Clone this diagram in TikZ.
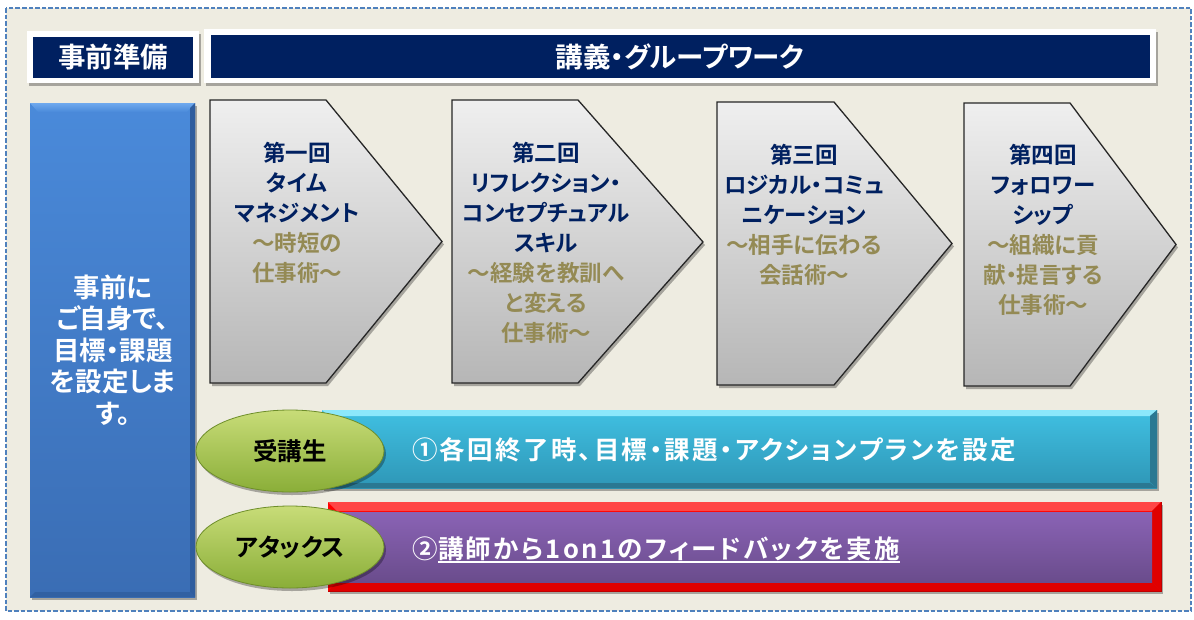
\documentclass[tikz,border=0pt]{standalone}
\usepackage{fontspec}
\setmainfont{Noto Sans CJK JP}[BoldFont={Noto Sans CJK JP Bold},RawFeature=+palt]
\newfontfamily\jpspaced{Noto Sans CJK JP}[BoldFont={Noto Sans CJK JP Bold},RawFeature=+palt,LetterSpace=9]
\usetikzlibrary{shadows,shapes.geometric}
\definecolor{navy}{HTML}{002060}
\definecolor{gold}{HTML}{948A54}
\definecolor{bgc}{HTML}{EEECE1}
\definecolor{dashc}{HTML}{4F81BD}
\definecolor{blueT}{HTML}{4A8ADA}
\definecolor{blueB}{HTML}{3A6DB4}
\definecolor{blueL}{HTML}{6FA9EE}
\definecolor{blueD}{HTML}{2F5D9E}
\definecolor{cyanT}{HTML}{40C0E2}
\definecolor{cyanB}{HTML}{2E96B6}
\definecolor{cyanL}{HTML}{8CE8FB}
\definecolor{cyanD}{HTML}{2A7892}
\definecolor{purT}{HTML}{8A63B5}
\definecolor{purB}{HTML}{6A4C8C}
\definecolor{redT}{HTML}{FF4545}
\definecolor{redD}{HTML}{E00000}
\definecolor{grnT}{HTML}{C8DC78}
\definecolor{grnB}{HTML}{8AAE38}
\definecolor{grnD}{HTML}{6E8E2A}
\definecolor{chT}{HTML}{EFEFEF}
\definecolor{chB}{HTML}{B6B6B6}
\tikzset{
  shad/.style={drop shadow={shadow xshift=2pt,shadow yshift=-3pt,opacity=0.3,fill=black}},
  hdr/.style={text=white,font=\bfseries\fontsize{27.5}{30}\selectfont,inner sep=0pt},
  chev/.style={top color=chT,bottom color=chB,draw=black!85,line width=1.3pt,line join=miter,shad},
  chtxt/.style={text=navy,align=center,inner sep=0pt,font=\bfseries\fontsize{22.5}{30}\selectfont},
  bartxt/.style={text=white,inner sep=0pt,font=\jpspaced\bfseries\fontsize{25.5}{30}\selectfont},
  ell/.style={ellipse,minimum width=188pt,minimum height=82pt,top color=grnT,bottom color=grnB,draw=grnD,line width=0.8pt,inner sep=0pt,font=\bfseries\fontsize{24.5}{30}\selectfont,text=black,shad}
}
\begin{document}
\begin{tikzpicture}[x=1pt,y=-1pt]
\useasboundingbox (0,0) rectangle (1194,619);
\fill[white] (0,0) rectangle (1194,619);
\draw[fill=bgc,draw=dashc,line width=1.8pt,dash pattern=on 4.5pt off 2pt] (6,8) rectangle (1191,611);

% headers
\fill[white,shad] (27,31) rectangle (199,83);
\fill[navy] (33,37) rectangle (193,78);
\node[hdr] (h1) at (113,57.5) {事前準備};
\fill[white,shad] (204,29) rectangle (1156,83);
\fill[navy] (211,35) rectangle (1150,78);
\node[hdr] (h2) at (680,57) {講義・グループワーク};

% blue column
\shade[top color=blueT,bottom color=blueB,shad] (30,103) rectangle (195,597);
\shade[top color=blueL,bottom color=blueT] (30,103) -- (195,103) -- (187,112) -- (38,112) -- cycle;
\fill[blueD] (195,103) -- (195,597) -- (190,592) -- (190,108) -- cycle;
\fill[blueD!80!blueB] (30,597) -- (195,597) -- (190,592) -- (35,592) -- cycle;
\node[text=white,align=center,inner sep=0pt,font=\bfseries\fontsize{26.5}{31.5}\selectfont] (pre) at (113,350) {事前に\\ご自身で、\\目標・課題\\を設定しま\\す。};

% chevrons
\shade[chev] (210,100) -- (326,100) -- (442,241.5) -- (326,383) -- (210,383) -- cycle;
\shade[chev] (452,100) -- (578,100) -- (703,242) -- (578,383) -- (452,383) -- cycle;
\shade[chev] (717,102) -- (834,102) -- (952,243.5) -- (834,385) -- (717,385) -- cycle;
\shade[chev] (964,103) -- (1070,103) -- (1176,244.5) -- (1070,386) -- (964,386) -- cycle;
\node[chtxt] (c1) at (297,212.5) {第一回\\タイム\\マネジメント\\\textcolor{gold}{～時短の}\\\textcolor{gold}{仕事術～}};
\node[chtxt] (c2) at (546,242.5) {第二回\\リフレクション・\\コンセプチュアル\\スキル\\\textcolor{gold}{～経験を教訓へ}\\\textcolor{gold}{と変える}\\\textcolor{gold}{仕事術～}};
\node[chtxt] (c3) at (804,215) {第三回\\ロジカル・コミュ\\ニケーション\\\textcolor{gold}{～相手に伝わる}\\\textcolor{gold}{会話術～}};
\node[chtxt] (c4) at (1043,230) {第四回\\フォロワー\\シップ\\\textcolor{gold}{～組織に貢}\\\textcolor{gold}{献・提言する}\\\textcolor{gold}{仕事術～}};

% cyan bar
\shade[top color=cyanT,bottom color=cyanB,shad] (322,410) rectangle (1157,488);
\fill[cyanL] (322,410) -- (1157,410) -- (1150,416) -- (329,416) -- cycle;
\fill[cyanD] (1157,410) -- (1157,488) -- (1150,482) -- (1150,416) -- cycle;
\fill[cyanD] (322,488) -- (1157,488) -- (1150,483) -- (329,483) -- cycle;
\node[bartxt,anchor=base west] (t1) at (412,459) {①各回終了時、目標・課題・アクションプランを設定};

% red/purple bar
\fill[red,shad] (328,502) rectangle (1161,591);
\fill[redT] (328,502) -- (1161,502) -- (1152,511) -- (337,511) -- cycle;
\fill[redD] (1161,502) -- (1161,591) -- (1152,582) -- (1152,511) -- cycle;
\fill[redD] (328,591) -- (1161,591) -- (1152,582) -- (337,582) -- cycle;
\draw[red!75!black,line width=0.8pt] (328,591) -- (1161,591) -- (1161,502);
\shade[top color=purT,bottom color=purB] (337,512) rectangle (1152,582);
\node[bartxt,anchor=base west] (t2a) at (412,558) {②};
\node[bartxt,anchor=base west] (t2b) at (t2a.base east) {講師から1on1のフィードバックを実施};
\draw[white,line width=1.3pt] ([yshift=-4pt]t2b.base west) -- ([yshift=-4pt]t2b.base east);

% ellipses
\node[ell] (e1) at (290,451) {受講生};
\node[ell] (e2) at (290,547) {アタックス};
\end{tikzpicture}
\end{document}
